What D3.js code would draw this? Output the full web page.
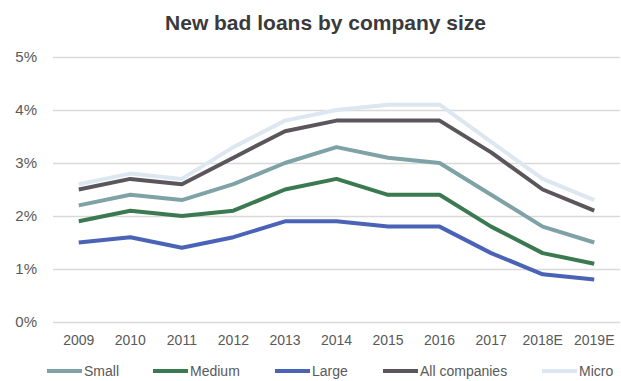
<!DOCTYPE html>
<html>
<head>
<meta charset="utf-8">
<script src="https://cdn.jsdelivr.net/npm/d3@7"></script>
<style>
  html, body { margin: 0; padding: 0; background: #fff; }
  svg { display: block; font-family: "Liberation Sans", Arial, Helvetica, sans-serif; }
</style>
</head>
<body>
<svg id="chart" width="621" height="381"></svg>
<script>
// Years on the horizontal axis
const years = ["2009", "2010", "2011", "2012", "2013", "2014", "2015", "2016", "2017", "2018E", "2019E"];

// New bad loan rates (%) by company size
const small     = [2.2, 2.4, 2.3, 2.6, 3.0, 3.3, 3.1, 3.0, 2.4, 1.8, 1.5];
const medium    = [1.9, 2.1, 2.0, 2.1, 2.5, 2.7, 2.4, 2.4, 1.8, 1.3, 1.1];
const large     = [1.5, 1.6, 1.4, 1.6, 1.9, 1.9, 1.8, 1.8, 1.3, 0.9, 0.8];
const allCompanies = [2.5, 2.7, 2.6, 3.1, 3.6, 3.8, 3.8, 3.8, 3.2, 2.5, 2.1];
const micro     = [2.6, 2.8, 2.7, 3.3, 3.8, 4.0, 4.1, 4.1, 3.4, 2.7, 2.3];

// Y axis ticks (%)
const yTicks = [0, 1, 2, 3, 4, 5];

const seriesNames  = ["Small", "Medium", "Large", "All companies", "Micro"];
const seriesValues = [small, medium, large, allCompanies, micro];
const seriesColors = ["#7fa2a6", "#3b7a50", "#4a63b6", "#5a565b", "#dce7f1"];

const series = seriesNames.map((name, i) => ({ name, values: seriesValues[i], color: seriesColors[i] }));

const svg = d3.select("#chart");

const x = d3.scaleBand().domain(years).range([53, 620]).padding(0);
const y = d3.scaleLinear().domain([0, 5]).range([322, 57]);
const cx = d => x(d) + x.bandwidth() / 2;

// Title
svg.append("text")
  .attr("x", 325.5).attr("y", 30)
  .attr("text-anchor", "middle")
  .attr("font-size", 21).attr("font-weight", "bold")
  .attr("fill", "#3a393c")
  .text("New bad loans by company size");

// Horizontal gridlines and y labels
const yAxis = d3.axisLeft(y)
  .tickValues(yTicks)
  .tickSize(-(620 - 53))
  .tickPadding(16)
  .tickFormat(d => d + "%");

const gY = svg.append("g").attr("transform", "translate(53,0)").call(yAxis);
gY.select(".domain").remove();
gY.selectAll(".tick line").attr("stroke", "#d9d9d9").attr("stroke-width", 1.5);
gY.selectAll(".tick text").attr("font-size", 15).attr("fill", "#595959")
  .attr("font-family", "Liberation Sans, Arial, sans-serif");

// X axis labels
const xAxis = d3.axisBottom(x).tickSize(0).tickPadding(0);
const gX = svg.append("g").attr("transform", "translate(0,335)").call(xAxis);
gX.select(".domain").remove();
gX.selectAll(".tick text").attr("font-size", 14).attr("fill", "#595959")
  .attr("font-family", "Liberation Sans, Arial, sans-serif")
  .attr("dy", "0.71em");

// Lines
const line = d3.line()
  .x((d, i) => cx(years[i]))
  .y(d => y(d));

svg.append("g").selectAll("path")
  .data(series)
  .join("path")
  .attr("d", s => line(s.values))
  .attr("fill", "none")
  .attr("stroke", s => s.color)
  .attr("stroke-width", 4)
  .attr("stroke-linejoin", "round");

// Legend
const legendX = [47, 153, 275, 383, 542];
const legend = svg.append("g").selectAll("g")
  .data(series)
  .join("g")
  .attr("transform", (s, i) => `translate(${legendX[i]},371)`);

legend.append("line")
  .attr("x1", 0).attr("x2", 35)
  .attr("y1", 0).attr("y2", 0)
  .attr("stroke", s => s.color)
  .attr("stroke-width", 4);

legend.append("text")
  .attr("x", 37).attr("y", 0)
  .attr("dy", "0.36em")
  .attr("font-size", 14).attr("fill", "#595959")
  .text(s => s.name);
</script>
</body>
</html>
